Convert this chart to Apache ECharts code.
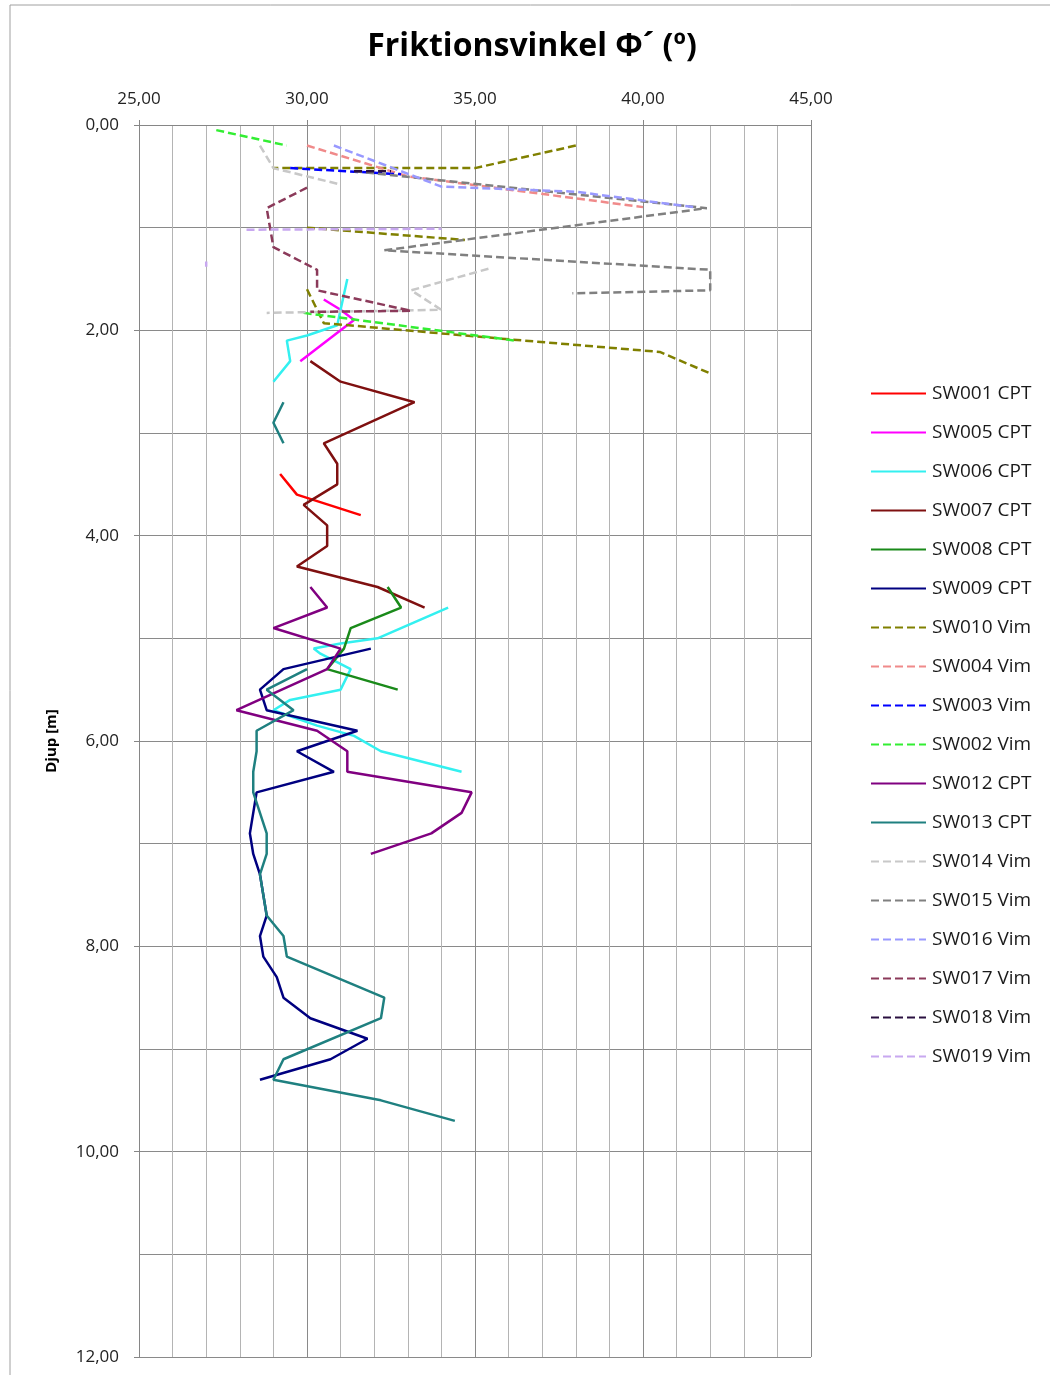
<!DOCTYPE html>
<html>
<head>
<meta charset="utf-8">
<script src="https://cdn.jsdelivr.net/npm/echarts@6/dist/echarts.min.js"></script>
<style>
html,body{margin:0;padding:0;background:#fff;}
#c{width:1050px;height:1375px;}
</style>
</head>
<body>
<div id="c"></div>
<script>
// ---- data: [angle (deg), depth (m)]; null = gap ----
const seriesNames = ['SW001 CPT','SW005 CPT','SW006 CPT','SW007 CPT','SW008 CPT','SW009 CPT','SW010 Vim','SW004 Vim','SW003 Vim','SW002 Vim','SW012 CPT','SW013 CPT','SW014 Vim','SW015 Vim','SW016 Vim','SW017 Vim','SW018 Vim','SW019 Vim'];
const xTicks = [25, 30, 35, 40, 45];
const yTicks = [0, 2, 4, 6, 8, 10, 12];

const SW001 = [[29.2,3.4],[29.7,3.6],[31.6,3.8]];
const SW005 = [[30.5,1.7],[31.0,1.8],[31.4,1.9],[31.0,2.0],[29.8,2.3]];
const SW006 = [[31.2,1.5],[31.0,1.8],[30.9,1.95],[30.0,2.05],[29.4,2.1],[29.5,2.3],[29.0,2.5], null,
  [34.2,4.7],[32.8,4.9],[32.1,5.0],[31.0,5.05],[30.2,5.1],[30.4,5.15],[31.3,5.3],[31.0,5.5],[29.5,5.6],[29.0,5.7],[30.3,5.85],[31.4,5.95],[32.2,6.1],[34.6,6.3]];
const SW007 = [[30.1,2.3],[31.0,2.5],[33.2,2.7],[30.5,3.1],[30.9,3.3],[30.9,3.5],[29.9,3.7],[30.6,3.9],[30.6,4.1],[29.7,4.3],[32.1,4.5],[33.5,4.7]];
const SW008 = [[32.4,4.5],[32.8,4.7],[31.3,4.9],[31.1,5.1],[30.6,5.3],[32.7,5.5]];
const SW009 = [[31.9,5.1],[29.3,5.3],[28.6,5.5],[28.8,5.7],[31.5,5.9],[29.7,6.1],[30.8,6.3],[28.5,6.5],[28.4,6.7],[28.3,6.9],[28.4,7.1],[28.6,7.3],[28.7,7.5],[28.8,7.7],[28.6,7.9],[28.7,8.1],[29.1,8.3],[29.3,8.5],[30.1,8.7],[31.8,8.9],[30.7,9.1],[28.6,9.3]];
const SW010 = [[38.0,0.2],[35.0,0.42],[29.0,0.42], null, [30.0,1.0],[34.7,1.12], null, [30.0,1.6],[30.5,1.93],[36.1,2.09],[40.5,2.21],[42.0,2.42]];
const SW004 = [[30.0,0.2],[33.0,0.5],[40.0,0.8]];
const SW003 = [[29.5,0.42],[32.8,0.48]];
const SW002 = [[27.3,0.05],[29.4,0.2], null, [29.9,1.83],[36.2,2.1]];
const SW012 = [[30.1,4.5],[30.6,4.7],[29.0,4.9],[31.0,5.1],[30.6,5.3],[27.9,5.7],[30.3,5.9],[31.2,6.1],[31.2,6.3],[34.9,6.5],[34.6,6.7],[33.7,6.9],[31.9,7.1]];
const SW013 = [[29.3,2.7],[29.0,2.9],[29.3,3.1], null,
  [30.0,5.3],[28.8,5.5],[29.6,5.7],[28.5,5.9],[28.5,6.1],[28.4,6.3],[28.4,6.5],[28.6,6.7],[28.8,6.9],[28.8,7.1],[28.6,7.3],[28.7,7.5],[28.8,7.7],[29.3,7.9],[29.4,8.1],[32.3,8.5],[32.2,8.7],[29.3,9.1],[29.0,9.3],[32.2,9.5],[34.4,9.7]];
const SW014 = [[28.6,0.2],[29.0,0.42],[31.0,0.58], null, [35.4,1.4],[33.1,1.61],[34.0,1.8],[28.8,1.83]];
const SW015 = [[31.4,0.45],[41.9,0.81],[32.3,1.22],[42.0,1.41],[42.0,1.61],[37.9,1.64]];
const SW016 = [[30.8,0.2],[34.0,0.6],[38.0,0.65],[41.5,0.8]];
const SW017 = [[30.0,0.61],[28.8,0.81],[29.0,1.19],[30.3,1.41],[30.3,1.61],[33.1,1.81],[30.1,1.82]];
const SW018 = [[31.4,0.45],[32.5,0.45]];
const SW019 = [[28.2,1.02],[34.0,1.01], null, [27.0,1.33],[27.0,1.38]];

const seriesData = [SW001,SW005,SW006,SW007,SW008,SW009,SW010,SW004,SW003,SW002,SW012,SW013,SW014,SW015,SW016,SW017,SW018,SW019];
const seriesColors = ['#FF0000','#FF00FF','#33F0F0','#7F1010','#1A8A1A','#000080','#808000','#F08A8A','#0000FF','#33EE33','#800080','#1F8080','#C8C8C8','#808080','#9999FF','#8B3A5A','#2A1040','#C8A8F0'];
const seriesDashed = [false,false,false,false,false,false,true,true,true,true,false,false,true,true,true,true,true,true];

const fmt = v => v.toFixed(2).replace('.', ',');
const FONT = '"Open Sans", "Liberation Sans", sans-serif';

const series = seriesNames.map((n, i) => ({
  name: n,
  type: 'line',
  data: seriesData[i].map(p => p === null ? ['-','-'] : p),
  symbol: 'none',
  connectNulls: false,
  animation: false,
  lineStyle: { color: seriesColors[i], width: 2.5, type: seriesDashed[i] ? [8, 4] : 'solid' },
  itemStyle: { color: seriesColors[i] },
  z: 2 + i
}));

const chart = echarts.init(document.getElementById('c'), null, { renderer: 'canvas' });
chart.setOption({
  backgroundColor: '#ffffff',
  animation: false,
  graphic: [
    { type: 'rect', shape: { x: 10, y: 5, width: 1050, height: 1400 }, style: { fill: 'none', stroke: '#a0a0a0', lineWidth: 1 }, silent: true, z: -10 },
    { type: 'text', x: 532, y: 47, style: { text: 'Friktionsvinkel Φ´ (º)', font: 'bold 32px ' + FONT, fill: '#000', textAlign: 'center', textVerticalAlign: 'middle' } }
  ],
  grid: { left: 139, top: 125, width: 672, height: 1232, containLabel: false },
  legend: {
    orient: 'vertical', left: 870, top: 384, padding: 0,
    itemWidth: 55, itemHeight: 14, itemGap: 20,
    itemStyle: { opacity: 0 },
    textStyle: { fontSize: 19, color: '#1a1a1a', fontFamily: FONT, padding: [0, 0, 0, 1] },
    data: seriesNames
  },
  xAxis: {
    type: 'value', position: 'top', min: 25, max: 45, interval: 5,
    axisLine: { show: true, lineStyle: { color: '#868686', width: 1 } },
    axisTick: { show: true, length: 5, inside: false, lineStyle: { color: '#868686' } },
    axisLabel: { formatter: fmt, fontSize: 17, color: '#222', fontFamily: FONT, margin: 17 },
    splitLine: { show: true, lineStyle: { color: '#8a8a8a', width: 1 } },
    minorTick: { show: false, splitNumber: 5 },
    minorSplitLine: { show: true, lineStyle: { color: '#b4b4b4', width: 1 } }
  },
  yAxis: {
    type: 'value', inverse: true, min: 0, max: 12, interval: 2,
    name: 'Djup [m]', nameLocation: 'middle', nameGap: 80, nameRotate: 90,
    nameTextStyle: { fontSize: 15, fontWeight: 'bold', color: '#000', fontFamily: FONT },
    axisLine: { show: true, lineStyle: { color: '#868686', width: 1 } },
    axisTick: { show: true, length: 5, lineStyle: { color: '#868686' } },
    axisLabel: { formatter: fmt, fontSize: 17, color: '#222', fontFamily: FONT, margin: 20 },
    splitLine: { show: true, lineStyle: { color: '#8a8a8a', width: 1 } },
    minorTick: { show: false, splitNumber: 2 },
    minorSplitLine: { show: true, lineStyle: { color: '#8a8a8a', width: 1 } }
  },
  series: series
});
</script>
</body>
</html>
